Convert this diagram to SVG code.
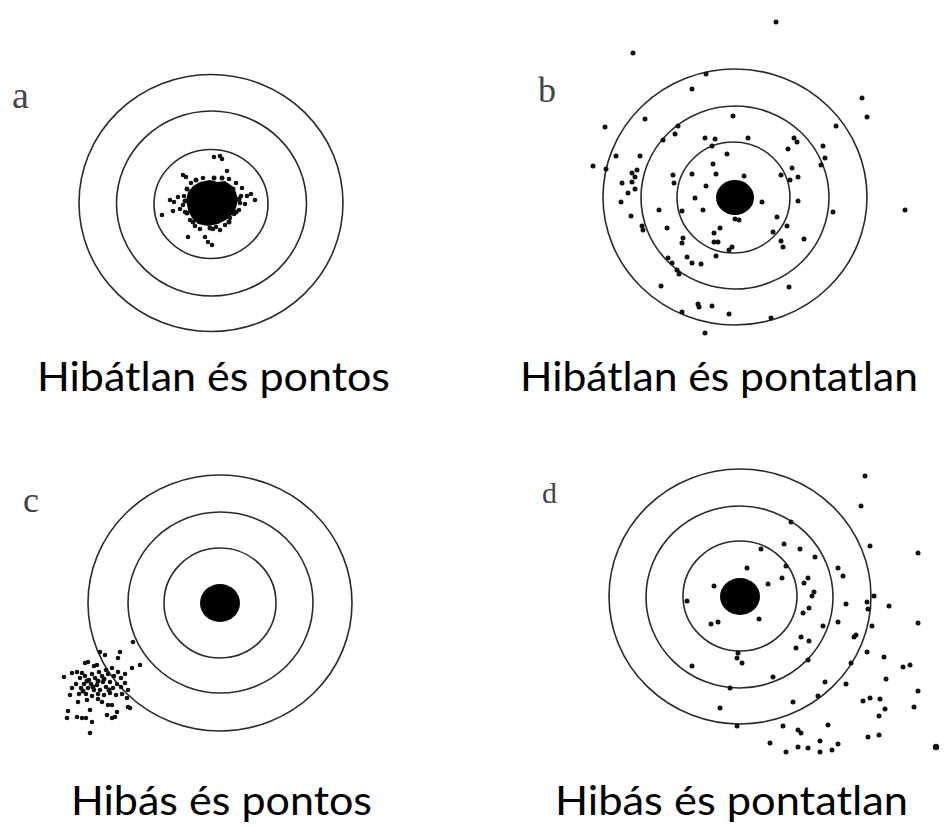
<svg xmlns="http://www.w3.org/2000/svg" width="951" height="826" viewBox="0 0 951 826">
<style>
.ring{fill:none;stroke:#2a2a2a;stroke-width:1.6}
.bull{fill:#000}
.d{fill:#111}
.lbl{font-family:"Liberation Serif","Times New Roman",serif;fill:#444}
.cap{font-family:Lato,"Open Sans",sans-serif;font-size:41px;fill:#000}
</style>
<rect width="951" height="826" fill="#fff"/>

<g id="panel-a">
<text class="lbl" x="12" y="108" font-size="38">a</text>
<ellipse class="ring" cx="211" cy="203" rx="132" ry="128.5"/>
<ellipse class="ring" cx="211.5" cy="203.5" rx="95" ry="92.5"/>
<ellipse class="ring" cx="211" cy="204" rx="57" ry="54.5"/>
<path class="bull" d="M193,186 L200,182 L210,180 L218,182 L225,181 L232,186 L236,192 L238,200 L236,208 L232,215 L226,220 L218,224 L208,226 L198,224 L192,218 L188,210 L186,200 L188,192 Z"/>
<g class="d">
<circle cx="214" cy="157" r="2.3"/><circle cx="220" cy="156" r="2.3"/><circle cx="222" cy="159" r="2.3"/>
<circle cx="227" cy="171" r="2.3"/><circle cx="183" cy="175" r="2.3"/><circle cx="186" cy="177" r="2.3"/>
<circle cx="242" cy="188" r="2.3"/><circle cx="247" cy="196" r="2.3"/><circle cx="255" cy="200" r="2.3"/><circle cx="251" cy="194" r="2.3"/>
<circle cx="170" cy="200" r="2.3"/><circle cx="174" cy="202" r="2.3"/><circle cx="173" cy="211" r="2.3"/>
<circle cx="162" cy="215" r="2.3"/><circle cx="185" cy="212" r="2.3"/><circle cx="240" cy="203" r="2.3"/>
<circle cx="239" cy="210" r="2.3"/><circle cx="230" cy="218" r="2.3"/><circle cx="234" cy="214" r="2.3"/>
<circle cx="190" cy="220" r="2.3"/><circle cx="195" cy="226" r="2.3"/><circle cx="213" cy="229" r="2.3"/>
<circle cx="220" cy="230" r="2.3"/><circle cx="188" cy="237" r="2.3"/><circle cx="205" cy="237" r="2.3"/>
<circle cx="208" cy="242" r="2.3"/><circle cx="212" cy="245" r="2.3"/><circle cx="191" cy="183" r="2.3"/>
<circle cx="229" cy="179" r="2.3"/><circle cx="203" cy="178" r="2.3"/><circle cx="184" cy="196" r="2.3"/>
<circle cx="241" cy="196" r="2.3"/><circle cx="200" cy="229" r="2.3"/><circle cx="225" cy="225" r="2.3"/>
<circle cx="183" cy="205" r="2.3"/><circle cx="236" cy="183" r="2.3"/><circle cx="216" cy="227" r="2.3"/>
<circle cx="196" cy="180" r="2.5"/><circle cx="214" cy="178" r="2.5"/><circle cx="222" cy="178" r="2.5"/>
<circle cx="233" cy="189" r="2.5"/><circle cx="239" cy="199" r="2.5"/><circle cx="236" cy="212" r="2.5"/>
<circle cx="229" cy="222" r="2.5"/><circle cx="210" cy="228" r="2.5"/><circle cx="193" cy="222" r="2.5"/>
<circle cx="187" cy="213" r="2.5"/><circle cx="185" cy="201" r="2.5"/><circle cx="187" cy="189" r="2.5"/>
<circle cx="178" cy="197" r="2.3"/><circle cx="245" cy="204" r="2.3"/><circle cx="180" cy="209" r="2.3"/>
</g>
</g>

<g id="panel-b">
<text class="lbl" x="538" y="102" font-size="36" fill="#333">b</text>
<ellipse class="ring" cx="735" cy="197" rx="132" ry="128"/>
<ellipse class="ring" cx="735" cy="197.5" rx="94" ry="91.5"/>
<ellipse class="ring" cx="733.5" cy="197.5" rx="56.5" ry="55.5"/>
<ellipse class="bull" cx="735" cy="197.5" rx="19" ry="17.5"/>
<g class="d">
<circle cx="776" cy="22" r="2.5"/><circle cx="633" cy="53" r="2.5"/><circle cx="706" cy="74" r="2.5"/>
<circle cx="692" cy="89" r="2.5"/><circle cx="862" cy="98" r="2.5"/><circle cx="867" cy="117" r="2.5"/>
<circle cx="733" cy="116" r="2.5"/><circle cx="645" cy="119" r="2.5"/><circle cx="605" cy="127" r="2.5"/>
<circle cx="678" cy="126" r="2.5"/><circle cx="836" cy="126" r="2.5"/><circle cx="675" cy="134" r="2.5"/>
<circle cx="705" cy="138" r="2.5"/><circle cx="715" cy="139" r="2.5"/><circle cx="748" cy="138" r="2.5"/>
<circle cx="794" cy="138" r="2.5"/><circle cx="797" cy="142" r="2.5"/><circle cx="663" cy="140" r="2.5"/>
<circle cx="712" cy="146" r="2.5"/><circle cx="788" cy="149" r="2.5"/><circle cx="823" cy="146" r="2.5"/>
<circle cx="616" cy="156" r="2.5"/><circle cx="640" cy="156" r="2.5"/><circle cx="727" cy="154" r="2.5"/>
<circle cx="825" cy="158" r="2.5"/><circle cx="593" cy="166" r="2.5"/><circle cx="606" cy="169" r="2.5"/>
<circle cx="713" cy="164" r="2.5"/><circle cx="821" cy="165" r="2.5"/><circle cx="637" cy="170" r="2.5"/>
<circle cx="632" cy="173" r="2.5"/><circle cx="635" cy="177" r="2.5"/><circle cx="792" cy="168" r="2.5"/>
<circle cx="673" cy="175" r="2.5"/><circle cx="692" cy="174" r="2.5"/><circle cx="716" cy="174" r="2.5"/>
<circle cx="744" cy="176" r="2.5"/><circle cx="781" cy="175" r="2.5"/><circle cx="798" cy="177" r="2.5"/>
<circle cx="674" cy="183" r="2.5"/><circle cx="622" cy="183" r="2.5"/><circle cx="632" cy="182" r="2.5"/>
<circle cx="706" cy="186" r="2.5"/><circle cx="628" cy="193" r="2.5"/><circle cx="635" cy="189" r="2.5"/>
<circle cx="695" cy="198" r="2.5"/><circle cx="790" cy="180" r="2.5"/><circle cx="621" cy="202" r="2.5"/>
<circle cx="762" cy="202" r="2.5"/><circle cx="798" cy="201" r="2.5"/><circle cx="659" cy="210" r="2.5"/>
<circle cx="682" cy="211" r="2.5"/><circle cx="703" cy="210" r="2.5"/><circle cx="833" cy="212" r="2.5"/>
<circle cx="631" cy="216" r="2.5"/><circle cx="739" cy="220" r="2.5"/><circle cx="735" cy="219" r="2.5"/>
<circle cx="777" cy="217" r="2.5"/><circle cx="642" cy="226" r="2.5"/><circle cx="643" cy="230" r="2.5"/>
<circle cx="667" cy="228" r="2.5"/><circle cx="720" cy="228" r="2.5"/><circle cx="787" cy="226" r="2.5"/>
<circle cx="773" cy="232" r="2.5"/><circle cx="714" cy="233" r="2.5"/><circle cx="683" cy="238" r="2.5"/>
<circle cx="682" cy="243" r="2.5"/><circle cx="714" cy="242" r="2.5"/><circle cx="718" cy="242" r="2.5"/>
<circle cx="781" cy="241" r="2.5"/><circle cx="783" cy="247" r="2.5"/><circle cx="804" cy="239" r="2.5"/>
<circle cx="732" cy="247" r="2.5"/><circle cx="729" cy="250" r="2.5"/><circle cx="716" cy="256" r="2.5"/>
<circle cx="687" cy="257" r="2.5"/><circle cx="668" cy="258" r="2.5"/><circle cx="672" cy="263" r="2.5"/>
<circle cx="692" cy="263" r="2.5"/><circle cx="701" cy="264" r="2.5"/><circle cx="677" cy="270" r="2.5"/>
<circle cx="679" cy="274" r="2.5"/><circle cx="661" cy="286" r="2.5"/><circle cx="789" cy="287" r="2.5"/>
<circle cx="698" cy="304" r="2.5"/><circle cx="699" cy="307" r="2.5"/><circle cx="712" cy="306" r="2.5"/>
<circle cx="682" cy="312" r="2.5"/><circle cx="729" cy="314" r="2.5"/><circle cx="771" cy="318" r="2.5"/>
<circle cx="705" cy="333" r="2.5"/><circle cx="905" cy="210" r="2.5"/>
</g>
</g>

<g id="panel-c">
<text class="lbl" x="23" y="512" font-size="36">c</text>
<ellipse class="ring" cx="220" cy="603" rx="132" ry="128"/>
<ellipse class="ring" cx="220.5" cy="602.5" rx="92.5" ry="90.5"/>
<ellipse class="ring" cx="220" cy="603" rx="56" ry="55"/>
<ellipse class="bull" cx="220" cy="603" rx="20" ry="19"/>
<g class="d">
<circle cx="133" cy="642" r="2.3"/><circle cx="100" cy="652" r="2.3"/><circle cx="105" cy="655" r="2.3"/>
<circle cx="120" cy="652" r="2.3"/><circle cx="118" cy="658" r="2.3"/><circle cx="85" cy="663" r="2.3"/>
<circle cx="88" cy="662" r="2.3"/><circle cx="97" cy="665" r="2.3"/><circle cx="132" cy="668" r="2.3"/>
<circle cx="140" cy="665" r="2.3"/><circle cx="72" cy="673" r="2.3"/><circle cx="77" cy="672" r="2.3"/>
<circle cx="64" cy="677" r="2.3"/><circle cx="82" cy="673" r="2.3"/>
<circle cx="80" cy="678" r="2.3"/><circle cx="85" cy="676" r="2.3"/><circle cx="89" cy="680" r="2.3"/>
<circle cx="92" cy="674" r="2.3"/><circle cx="95" cy="678" r="2.3"/><circle cx="99" cy="672" r="2.3"/>
<circle cx="102" cy="676" r="2.3"/><circle cx="106" cy="670" r="2.3"/><circle cx="108" cy="674" r="2.3"/>
<circle cx="112" cy="668" r="2.3"/><circle cx="114" cy="676" r="2.3"/><circle cx="118" cy="672" r="2.3"/>
<circle cx="121" cy="678" r="2.3"/><circle cx="125" cy="674" r="2.3"/><circle cx="76" cy="684" r="2.3"/>
<circle cx="81" cy="688" r="2.3"/><circle cx="84" cy="684" r="2.3"/><circle cx="88" cy="688" r="2.3"/>
<circle cx="91" cy="684" r="2.3"/><circle cx="94" cy="690" r="2.3"/><circle cx="97" cy="685" r="2.3"/>
<circle cx="100" cy="690" r="2.3"/><circle cx="103" cy="682" r="2.3"/><circle cx="106" cy="687" r="2.3"/>
<circle cx="110" cy="682" r="2.3"/><circle cx="113" cy="688" r="2.3"/><circle cx="117" cy="684" r="2.3"/>
<circle cx="121" cy="687" r="2.3"/><circle cx="125" cy="683" r="2.3"/><circle cx="128" cy="690" r="2.3"/>
<circle cx="79" cy="694" r="2.3"/><circle cx="86" cy="694" r="2.3"/><circle cx="92" cy="696" r="2.3"/>
<circle cx="98" cy="694" r="2.3"/><circle cx="104" cy="695" r="2.3"/><circle cx="110" cy="693" r="2.3"/>
<circle cx="116" cy="695" r="2.3"/><circle cx="122" cy="694" r="2.3"/><circle cx="72" cy="688" r="2.3"/>
<circle cx="78" cy="702" r="2.3"/><circle cx="87" cy="700" r="2.3"/><circle cx="98" cy="699" r="2.3"/>
<circle cx="108" cy="705" r="2.3"/><circle cx="112" cy="705" r="2.3"/><circle cx="127" cy="698" r="2.3"/>
<circle cx="130" cy="708" r="2.3"/><circle cx="68" cy="711" r="2.3"/><circle cx="90" cy="710" r="2.3"/>
<circle cx="77" cy="717" r="2.3"/><circle cx="82" cy="718" r="2.3"/><circle cx="86" cy="718" r="2.3"/>
<circle cx="92" cy="722" r="2.3"/><circle cx="67" cy="718" r="2.3"/><circle cx="107" cy="715" r="2.3"/>
<circle cx="112" cy="718" r="2.3"/><circle cx="117" cy="712" r="2.3"/><circle cx="90" cy="733" r="2.3"/>
<circle cx="128" cy="707" r="2.3"/><circle cx="115" cy="717" r="2.3"/><circle cx="94" cy="666" r="2.3"/>
<circle cx="70" cy="695" r="2.3"/><circle cx="102" cy="702" r="2.3"/>
<circle cx="87" cy="681" r="2.5"/><circle cx="98" cy="681" r="2.5"/><circle cx="93" cy="687" r="2.5"/>
<circle cx="104" cy="679" r="2.5"/><circle cx="109" cy="690" r="2.5"/><circle cx="83" cy="691" r="2.5"/>
</g>
</g>

<g id="panel-d">
<text class="lbl" x="542" y="503" font-size="30" fill="#333">d</text>
<ellipse class="ring" cx="740" cy="596.5" rx="131" ry="127.5"/>
<ellipse class="ring" cx="739.5" cy="597" rx="93.5" ry="91"/>
<ellipse class="ring" cx="740" cy="596" rx="57" ry="55"/>
<ellipse class="bull" cx="740" cy="596.5" rx="20" ry="18.5"/>
<g class="d">
<circle cx="865" cy="476" r="2.5"/><circle cx="861" cy="506" r="2.5"/><circle cx="791" cy="522" r="2.5"/>
<circle cx="870" cy="546" r="2.5"/><circle cx="784" cy="544" r="2.5"/><circle cx="800" cy="549" r="2.5"/>
<circle cx="761" cy="549" r="2.5"/><circle cx="815" cy="557" r="2.5"/><circle cx="918" cy="553" r="2.5"/>
<circle cx="786" cy="566" r="2.5"/><circle cx="747" cy="568" r="2.5"/><circle cx="838" cy="568" r="2.5"/>
<circle cx="843" cy="576" r="2.5"/><circle cx="782" cy="578" r="2.5"/><circle cx="808" cy="578" r="2.5"/>
<circle cx="804" cy="583" r="2.5"/><circle cx="714" cy="586" r="2.5"/><circle cx="768" cy="584" r="2.5"/>
<circle cx="814" cy="592" r="2.5"/><circle cx="812" cy="596" r="2.5"/><circle cx="874" cy="596" r="2.5"/>
<circle cx="687" cy="601" r="2.5"/><circle cx="867" cy="602" r="2.5"/><circle cx="846" cy="604" r="2.5"/>
<circle cx="889" cy="606" r="2.5"/><circle cx="868" cy="609" r="2.5"/><circle cx="809" cy="608" r="2.5"/>
<circle cx="803" cy="613" r="2.5"/><circle cx="759" cy="619" r="2.5"/><circle cx="711" cy="624" r="2.5"/>
<circle cx="718" cy="622" r="2.5"/><circle cx="838" cy="622" r="2.5"/><circle cx="823" cy="626" r="2.5"/>
<circle cx="872" cy="626" r="2.5"/><circle cx="918" cy="623" r="2.5"/><circle cx="854" cy="637" r="2.5"/>
<circle cx="856" cy="635" r="2.5"/><circle cx="801" cy="637" r="2.5"/><circle cx="809" cy="641" r="2.5"/>
<circle cx="796" cy="648" r="2.5"/><circle cx="867" cy="652" r="2.5"/><circle cx="884" cy="657" r="2.5"/>
<circle cx="738" cy="653" r="2.5"/><circle cx="737" cy="658" r="2.5"/><circle cx="742" cy="663" r="2.5"/>
<circle cx="808" cy="660" r="2.5"/><circle cx="851" cy="663" r="2.5"/><circle cx="903" cy="667" r="2.5"/>
<circle cx="910" cy="665" r="2.5"/><circle cx="692" cy="666" r="2.5"/><circle cx="773" cy="677" r="2.5"/>
<circle cx="886" cy="679" r="2.5"/><circle cx="825" cy="682" r="2.5"/><circle cx="846" cy="684" r="2.5"/>
<circle cx="730" cy="688" r="2.5"/><circle cx="918" cy="691" r="2.5"/><circle cx="818" cy="696" r="2.5"/>
<circle cx="863" cy="701" r="2.5"/><circle cx="870" cy="698" r="2.5"/><circle cx="880" cy="699" r="2.5"/>
<circle cx="793" cy="702" r="2.5"/><circle cx="720" cy="708" r="2.5"/><circle cx="914" cy="707" r="2.5"/>
<circle cx="885" cy="709" r="2.5"/><circle cx="879" cy="716" r="2.5"/><circle cx="737" cy="726" r="2.5"/>
<circle cx="783" cy="726" r="2.5"/><circle cx="828" cy="725" r="2.5"/><circle cx="798" cy="730" r="2.5"/>
<circle cx="801" cy="733" r="2.5"/><circle cx="868" cy="737" r="2.5"/><circle cx="879" cy="735" r="2.5"/>
<circle cx="770" cy="743" r="2.5"/><circle cx="820" cy="741" r="2.5"/><circle cx="838" cy="744" r="2.5"/>
<circle cx="798" cy="747" r="2.5"/><circle cx="808" cy="748" r="2.5"/><circle cx="832" cy="750" r="2.5"/>
<circle cx="786" cy="752" r="2.5"/><circle cx="820" cy="752" r="2.5"/><circle cx="936" cy="747" r="3.2"/>
</g>
</g>

<g id="captions">
<text class="cap" x="37" y="391" textLength="353" lengthAdjust="spacingAndGlyphs">Hibátlan és pontos</text>
<text class="cap" x="520" y="391" textLength="398" lengthAdjust="spacingAndGlyphs">Hibátlan és pontatlan</text>
<text class="cap" x="71" y="815" textLength="301" lengthAdjust="spacingAndGlyphs">Hibás és pontos</text>
<text class="cap" x="555" y="815" textLength="353" lengthAdjust="spacingAndGlyphs">Hibás és pontatlan</text>
</g>
</svg>
